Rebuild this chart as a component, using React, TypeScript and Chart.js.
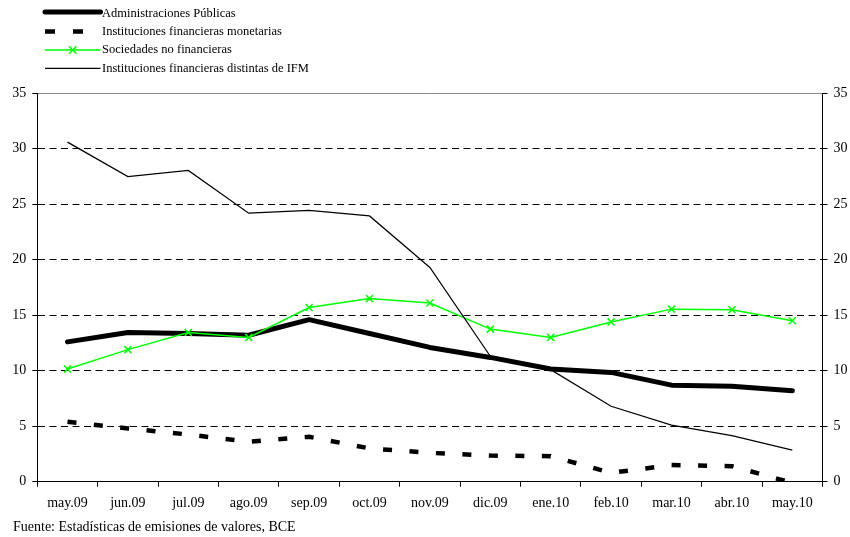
import React, { useEffect, useRef } from "react";
import { Chart, registerables } from "chart.js";

Chart.register(...registerables);

const categories = ["may.09", "jun.09", "jul.09", "ago.09", "sep.09", "oct.09", "nov.09", "dic.09", "ene.10", "feb.10", "mar.10", "abr.10", "may.10"];
const administracionesPublicas = [12.6, 13.45, 13.35, 13.2, 14.6, 13.35, 12.1, 11.2, 10.15, 9.85, 8.7, 8.6, 8.2];
const institucionesMonetarias = [5.4, 4.8, 4.25, 3.6, 4.05, 3.0, 2.6, 2.35, 2.3, 0.8, 1.5, 1.4, -0.1];
const sociedadesNoFinancieras = [10.15, 11.9, 13.45, 13.0, 15.7, 16.5, 16.1, 13.75, 13.0, 14.4, 15.55, 15.5, 14.5];
const institucionesDistintasIFM = [30.6, 27.5, 28.05, 24.2, 24.45, 23.95, 19.3, 11.3, 10.1, 6.8, 5.1, 4.15, 2.85];
const seriesNames = [
  "Administraciones Públicas",
  "Instituciones financieras monetarias",
  "Sociedades no financieras",
  "Instituciones financieras distintas de IFM",
];
const yMin = 0;
const yMax = 35;
const yStep = 5;
const sourceNote = "Fuente: Estadísticas de emisiones de valores, BCE";

const FONT = "'Liberation Serif', 'Times New Roman', serif";
const GREEN = "#00ff00";

const legendPlugin = {
  id: "customLegend",
  afterDraw(chart: any) {
    const ctx = chart.ctx;
    const rows = [12, 31.5, 50, 68.3];
    const x1 = 45;
    const x2 = 100.5;
    ctx.save();
    chart.data.datasets.forEach((ds: any, i: number) => {
      const y = rows[i];
      ctx.beginPath();
      ctx.strokeStyle = ds.borderColor;
      ctx.lineWidth = ds.borderWidth;
      ctx.lineCap = ds.borderCapStyle || "butt";
      ctx.setLineDash(ds.legendDash || []);
      ctx.moveTo(x1, y);
      ctx.lineTo(x2, y);
      ctx.stroke();
      ctx.setLineDash([]);
      if (ds.pointStyle === "crossRot" && ds.pointRadius > 0) {
        const cx = (x1 + x2) / 2;
        const r = ds.pointRadius * 0.75;
        ctx.beginPath();
        ctx.strokeStyle = ds.pointBorderColor;
        ctx.lineWidth = ds.pointBorderWidth;
        ctx.lineCap = "butt";
        ctx.moveTo(cx - r, y - r);
        ctx.lineTo(cx + r, y + r);
        ctx.moveTo(cx - r, y + r);
        ctx.lineTo(cx + r, y - r);
        ctx.stroke();
      }
      ctx.fillStyle = "#000";
      ctx.font = `12.5px ${FONT}`;
      ctx.textBaseline = "middle";
      ctx.textAlign = "left";
      ctx.fillText(seriesNames[i], 102, y + (i === 0 ? 1.3 : 0));
    });
    ctx.font = `14px ${FONT}`;
    ctx.textBaseline = "middle";
    ctx.fillStyle = "#000";
    ctx.fillText(sourceNote, 13, 527);
    ctx.restore();
  },
};

export default function App() {
  const canvasRef = useRef<HTMLCanvasElement | null>(null);

  useEffect(() => {
    if (!canvasRef.current) return;
    const tickFont = { family: FONT, size: 14 };
    const chart = new Chart(canvasRef.current, {
      type: "line",
      data: {
        labels: categories,
        datasets: [
          {
            label: seriesNames[0],
            data: administracionesPublicas,
            borderColor: "#000",
            borderWidth: 5,
            borderCapStyle: "round",
            borderJoinStyle: "round",
            pointRadius: 0,
            pointHoverRadius: 0,
            fill: false,
            tension: 0,
            order: 3,
          } as any,
          {
            label: seriesNames[1],
            data: institucionesMonetarias,
            borderColor: "#000",
            borderWidth: 4.5,
            borderDash: [9, 17.5],
            legendDash: [10, 18],
            borderCapStyle: "butt",
            pointRadius: 0,
            pointHoverRadius: 0,
            fill: false,
            tension: 0,
            order: 2,
          } as any,
          {
            label: seriesNames[2],
            data: sociedadesNoFinancieras,
            borderColor: GREEN,
            borderWidth: 1.5,
            pointStyle: "crossRot",
            pointRadius: 5,
            pointBorderColor: GREEN,
            pointBackgroundColor: GREEN,
            pointBorderWidth: 1.5,
            fill: false,
            tension: 0,
            order: 1,
          } as any,
          {
            label: seriesNames[3],
            data: institucionesDistintasIFM,
            borderColor: "#000",
            borderWidth: 1.2,
            pointRadius: 0,
            pointHoverRadius: 0,
            fill: false,
            tension: 0,
            order: 0,
          } as any,
        ],
      },
      options: {
        animation: false,
        responsive: false,
        devicePixelRatio: 1,
        layout: { padding: { top: 93.3, left: 0, right: 0, bottom: 0 } },
        plugins: {
          legend: { display: false },
          tooltip: { enabled: false },
        },
        scales: {
          x: {
            type: "category",
            offset: true,
            grid: {
              offset: true,
              drawOnChartArea: false,
              tickLength: 5,
              color: "#000",
              tickColor: "#000",
            },
            border: { display: true, color: "#000", width: 1 },
            ticks: {
              font: tickFont,
              color: "#000",
              padding: 8,
              maxRotation: 0,
              autoSkip: false,
            },
            afterFit(scale: any) {
              scale.height = 537 - 481.7;
            },
          },
          y: {
            position: "left",
            min: yMin,
            max: yMax,
            ticks: {
              stepSize: yStep,
              font: tickFont,
              color: "#000",
              padding: 6,
            },
            grid: {
              tickLength: 5,
              color: (c: any) => (c.tick && c.tick.value === yMax ? "#888" : "#000"),
              tickColor: "#000",
              lineWidth: 1,
            },
            border: {
              display: true,
              color: "#000",
              width: 1,
              dash: (c: any) =>
                c.tick && c.tick.value > yMin && c.tick.value < yMax ? [7, 4.5] : [],
            },
            afterFit(scale: any) {
              scale.width = 37.3;
            },
          },
          y2: {
            position: "right",
            min: yMin,
            max: yMax,
            ticks: {
              stepSize: yStep,
              font: tickFont,
              color: "#000",
              padding: 6,
            },
            grid: {
              drawOnChartArea: false,
              tickLength: 5,
              color: "#000",
              tickColor: "#000",
            },
            border: { display: true, color: "#000", width: 1 },
            afterFit(scale: any) {
              scale.width = 850 - 822.5;
            },
          },
        },
      } as any,
      plugins: [legendPlugin],
    });
    return () => chart.destroy();
  }, []);

  return (
    <div style={{ position: "absolute", left: 0, top: 0, width: 850, height: 537, background: "#fff" }}>
      <canvas ref={canvasRef} width={850} height={537} style={{ display: "block" }} />
    </div>
  );
}
